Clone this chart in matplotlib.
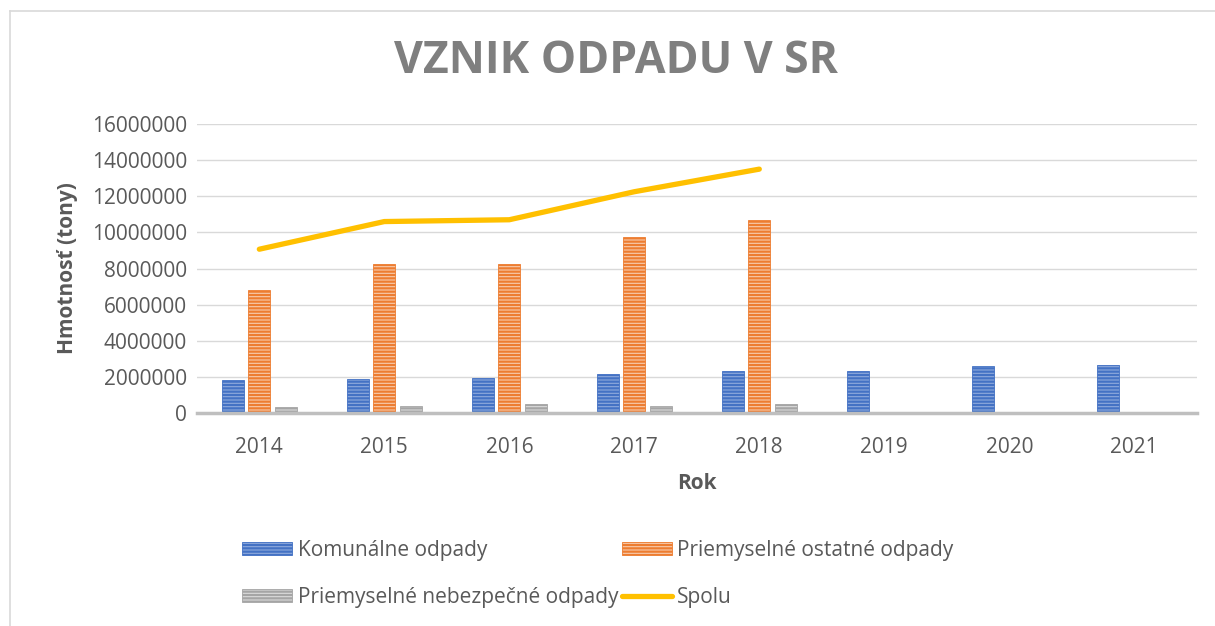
import numpy as np
import matplotlib.pyplot as plt
from matplotlib.lines import Line2D

plt.rcParams["font.family"] = ["Open Sans", "DejaVu Sans"]
plt.rcParams["hatch.linewidth"] = 1.6

# ── data (tony) ──────────────────────────────────────────────────────────────
years        = ["2014", "2015", "2016", "2017", "2018", "2019", "2020", "2021"]
komunalne    = [1830000, 1890000, 1940000, 2150000, 2350000, 2350000, 2600000, 2680000]
pr_ostatne   = [6830000, 8260000, 8240000, 9730000, 10690000, 0, 0, 0]
pr_nebezpec  = [360000, 400000, 490000, 400000, 510000, 0, 0, 0]
spolu_years  = ["2014", "2015", "2016", "2017", "2018"]
spolu        = [9070000, 10600000, 10700000, 12250000, 13500000]

TXT = "#595959"
FS = 15

fig = plt.figure(figsize=(12.15, 6.26), dpi=100)
ax = fig.add_axes([0.162, 0.340, 0.823, 0.462])

x = np.arange(len(years))
w = 0.178
off = 0.212
b1 = ax.bar(x - off, komunalne, w, color="#8faadc", edgecolor="#4472c4",
            hatch="-----", linewidth=0.6, zorder=3)
b2 = ax.bar(x, pr_ostatne, w, color="#f8cbad", edgecolor="#ed7d31",
            hatch="-----", linewidth=0.6, zorder=3)
b3 = ax.bar(x + off, pr_nebezpec, w, color="#dbdbdb", edgecolor="#a5a5a5",
            hatch="-----", linewidth=0.6, zorder=3)
sx = [years.index(y) for y in spolu_years]
ln, = ax.plot(sx, spolu, color="#ffc000", linewidth=3.8,
              solid_capstyle="round", zorder=4)

ax.set_xlim(-0.5, len(years) - 0.5)
ax.set_ylim(0, 16000000)
ax.set_yticks(np.arange(0, 16000001, 2000000))
ax.set_yticklabels([str(v) for v in range(0, 16000001, 2000000)])
ax.set_xticks(x)
ax.set_xticklabels(years)
ax.grid(axis="y", color="#d9d9d9", linewidth=1.0, zorder=0)
ax.tick_params(length=0, labelsize=FS, colors=TXT, pad=7)
ax.tick_params(axis="x", pad=17)
for s in ["top", "right", "left"]:
    ax.spines[s].set_visible(False)
ax.spines["bottom"].set_color("#bfbfbf")
ax.spines["bottom"].set_linewidth(2.5)
ax.spines["bottom"].set_zorder(5)

ax.set_xlabel("Rok", fontsize=FS, fontweight="bold", color=TXT, labelpad=11)
ax.set_ylabel("Hmotnosť (tony)", fontsize=FS, fontweight="bold", color=TXT,
              labelpad=10)

fig.text(0.507, 0.902, "VZNIK ODPADU V SR", ha="center", va="center",
         fontsize=32, fontweight="bold", color="#7f7f7f")

leg = fig.legend([b1, b3, b2, ln],
                 ["Komunálne odpady", "Priemyselné nebezpečné odpady",
                  "Priemyselné ostatné odpady", "Spolu"],
                 ncol=2, loc="center left", bbox_to_anchor=(0.184, 0.083),
                 frameon=False, fontsize=FS, labelcolor=TXT,
                 handlelength=2.4, handleheight=0.55, handletextpad=0.25,
                 columnspacing=0.2, labelspacing=1.25)

# chart-area border (top and left visible)
fig.add_artist(Line2D([0.0085, 1.0], [0.983, 0.983], transform=fig.transFigure,
                      color="#d9d9d9", linewidth=1.2))
fig.add_artist(Line2D([0.0085, 0.0085], [0.0, 0.983], transform=fig.transFigure,
                      color="#d9d9d9", linewidth=1.2))

fig.savefig("out.png", dpi=100)
